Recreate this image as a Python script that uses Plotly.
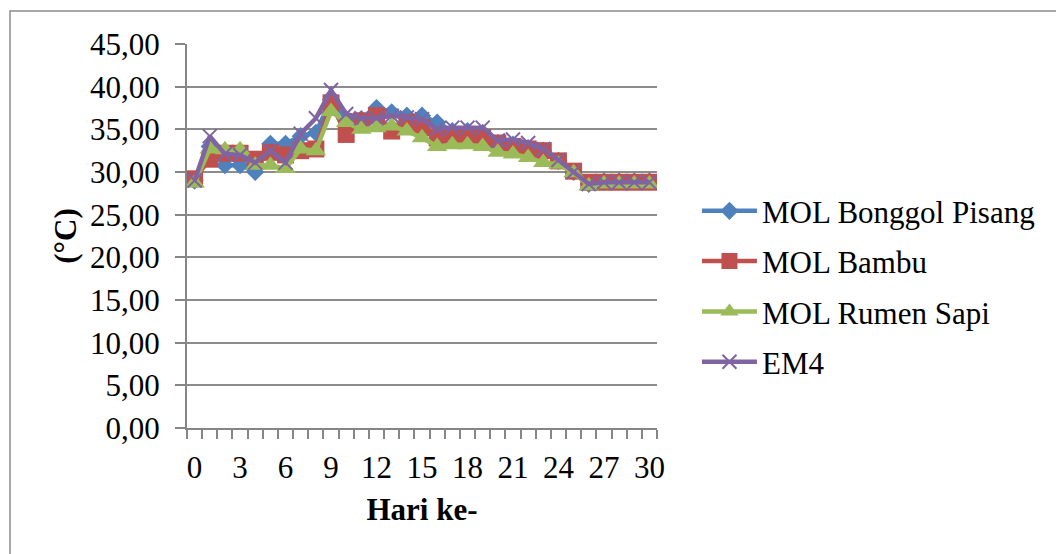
import plotly.graph_objects as go

days = list(range(0, 31))
x_tick_vals = [0, 3, 6, 9, 12, 15, 18, 21, 24, 27, 30]
y_tick_vals = [0, 5, 10, 15, 20, 25, 30, 35, 40, 45]

mol_bonggol_pisang = [29.0, 33.0, 30.8, 30.8, 30.0, 33.3, 33.3, 34.2, 34.6, 38.5,
                      36.2, 36.2, 37.5, 37.0, 36.6, 36.6, 35.8, 34.8, 34.8, 34.6,
                      33.4, 33.2, 32.8, 32.5, 31.3, 30.0, 28.6, 28.9, 28.9, 28.9, 28.9]
mol_bambu = [29.2, 31.5, 32.2, 32.2, 31.5, 32.3, 32.0, 32.5, 32.7, 38.1,
             34.4, 36.0, 36.6, 34.8, 35.8, 35.2, 34.0, 34.0, 34.2, 34.0,
             33.4, 33.0, 32.7, 32.5, 31.3, 30.1, 28.8, 28.8, 28.8, 28.8, 28.8]
mol_rumen_sapi = [28.7, 32.7, 32.6, 32.6, 30.8, 30.8, 30.4, 32.7, 32.5, 37.1,
                  35.8, 35.0, 35.2, 35.4, 34.8, 34.0, 33.0, 33.2, 33.2, 33.0,
                  32.3, 32.1, 31.7, 31.1, 30.9, 29.9, 28.4, 28.6, 28.6, 28.6, 28.6]
em4 = [29.0, 34.2, 32.1, 32.0, 31.1, 32.5, 31.1, 34.5, 36.3, 39.6,
       36.8, 36.3, 36.3, 36.6, 36.4, 36.2, 35.0, 35.2, 35.2, 35.2,
       33.7, 33.8, 33.4, 32.7, 31.4, 30.0, 28.6, 28.8, 28.8, 28.8, 28.8]

series = [
    ("MOL Bonggol Pisang", mol_bonggol_pisang, "#4F81BD", "diamond", 14),
    ("MOL Bambu", mol_bambu, "#C0504D", "square", 17),
    ("MOL Rumen Sapi", mol_rumen_sapi, "#9BBB59", "triangle-up", 18),
    ("EM4", em4, "#8064A2", "x-thin-open", 14),
]

FONT = "Liberation Serif"

fig = go.Figure()
for i, (name, vals, color, sym, size) in enumerate(series):
    marker = dict(symbol=sym, size=size, color=color)
    if sym == "x-thin-open":
        marker["line"] = dict(color=color, width=2)
    fig.add_trace(go.Scatter(
        x=days, y=vals, name=name, mode="lines+markers",
        line=dict(color=color, width=4.5),
        marker=marker,
        legendgroup="g%d" % i,
    ))

fig.update_layout(
    width=1056, height=554,
    margin=dict(l=187, r=399, t=44, b=126),
    paper_bgcolor="white", plot_bgcolor="white",
    separators=",.",
    font=dict(family=FONT, size=31, color="black"),
    showlegend=True,
    legend=dict(
        x=1.085, xanchor="left", y=0.635, yanchor="top",
        font=dict(family=FONT, size=31), traceorder="grouped", tracegroupgap=7,
        itemwidth=55, bgcolor="rgba(0,0,0,0)",
    ),
    shapes=[dict(type="rect", xref="paper", yref="paper",
                 x0=-177 / 470, x1=880 / 470, y0=-140 / 384, y1=417 / 384,
                 line=dict(color="#8C8C8C", width=1.5), layer="below")],
)

fig.update_xaxes(
    range=[-0.5, 30.5], tickvals=x_tick_vals, ticks="",
    showgrid=False, zeroline=False,
    showline=True, linecolor="#868686", linewidth=2,
    minor=dict(ticks="outside", tick0=-0.5, dtick=1, ticklen=9, tickcolor="#868686",
               tickwidth=1.5, showgrid=False),
    tickfont=dict(family=FONT, size=31),
    ticklabelstandoff=11,
    title=dict(text="<b>Hari ke-</b>", font=dict(family=FONT, size=31), standoff=14),
)
fig.update_yaxes(
    range=[0, 45], tickvals=y_tick_vals, tickformat=".2f",
    showgrid=True, gridcolor="#8C8C8C", gridwidth=2,
    ticks="outside", ticklen=10, tickcolor="#868686", tickwidth=1.5,
    showline=True, linecolor="#868686", linewidth=2, zeroline=False,
    tickfont=dict(family=FONT, size=31),
    ticklabelstandoff=9,
    title=dict(text="<b>(°C)</b>", font=dict(family=FONT, size=31), standoff=4),
)

fig.write_html("out.html")
